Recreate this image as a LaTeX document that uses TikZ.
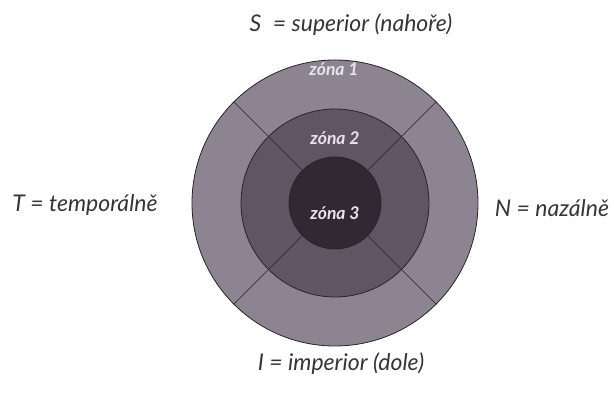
\documentclass[tikz,border=0pt]{standalone}
\usepackage{fontspec}
\setmainfont{Lato}
\usepackage{tikz}

\definecolor{ringout}{RGB}{140,132,144}
\definecolor{ringmid}{RGB}{96,86,99}
\definecolor{ringin}{RGB}{50,40,52}
\definecolor{labelgray}{RGB}{55,52,56}
\definecolor{zonetext}{RGB}{232,228,234}

\tikzset{
  side/.style={font=\fontsize{23}{27}\selectfont\itshape, text=labelgray, inner sep=0pt},
  zone/.style={font=\fontsize{17.5}{20}\selectfont\itshape\bfseries, text=zonetext, inner sep=0pt},
  rim/.style={draw=black!85, line width=0.8pt}
}

\begin{document}
\begin{tikzpicture}[x=1pt,y=-1pt]
  \useasboundingbox (0,0) rectangle (614,403);
  \coordinate (c) at (335,203);
  % the three zones
  \filldraw[ringout,rim] (c) circle (143pt);
  \filldraw[ringmid,rim] (c) circle (94pt);
  \filldraw[ringin,rim] (c) circle (46pt);
  \begin{scope}[shift={(c)}]
    \foreach \a in {45,135,225,315}
      \draw[black!85, line width=0.6pt] (\a:46pt) -- (\a:143pt);
  \end{scope}
  \node[zone] (z1) at (334,69) {zóna 1};
  \node[zone] (z2) at (335,138) {zóna 2};
  \node[zone] (z3) at (335,213) {zóna 3};
  % directions
  \node[side] (sup) at (351,25) {S\enspace= superior (nahoře)};
  \node[side] (tmp) at (85,205) {T = temporálně};
  \node[side] (nas) at (552,208) {N = nazálně};
  \node[side] (inf) at (341,364) {I = imperior (dole)};
\end{tikzpicture}
\end{document}
